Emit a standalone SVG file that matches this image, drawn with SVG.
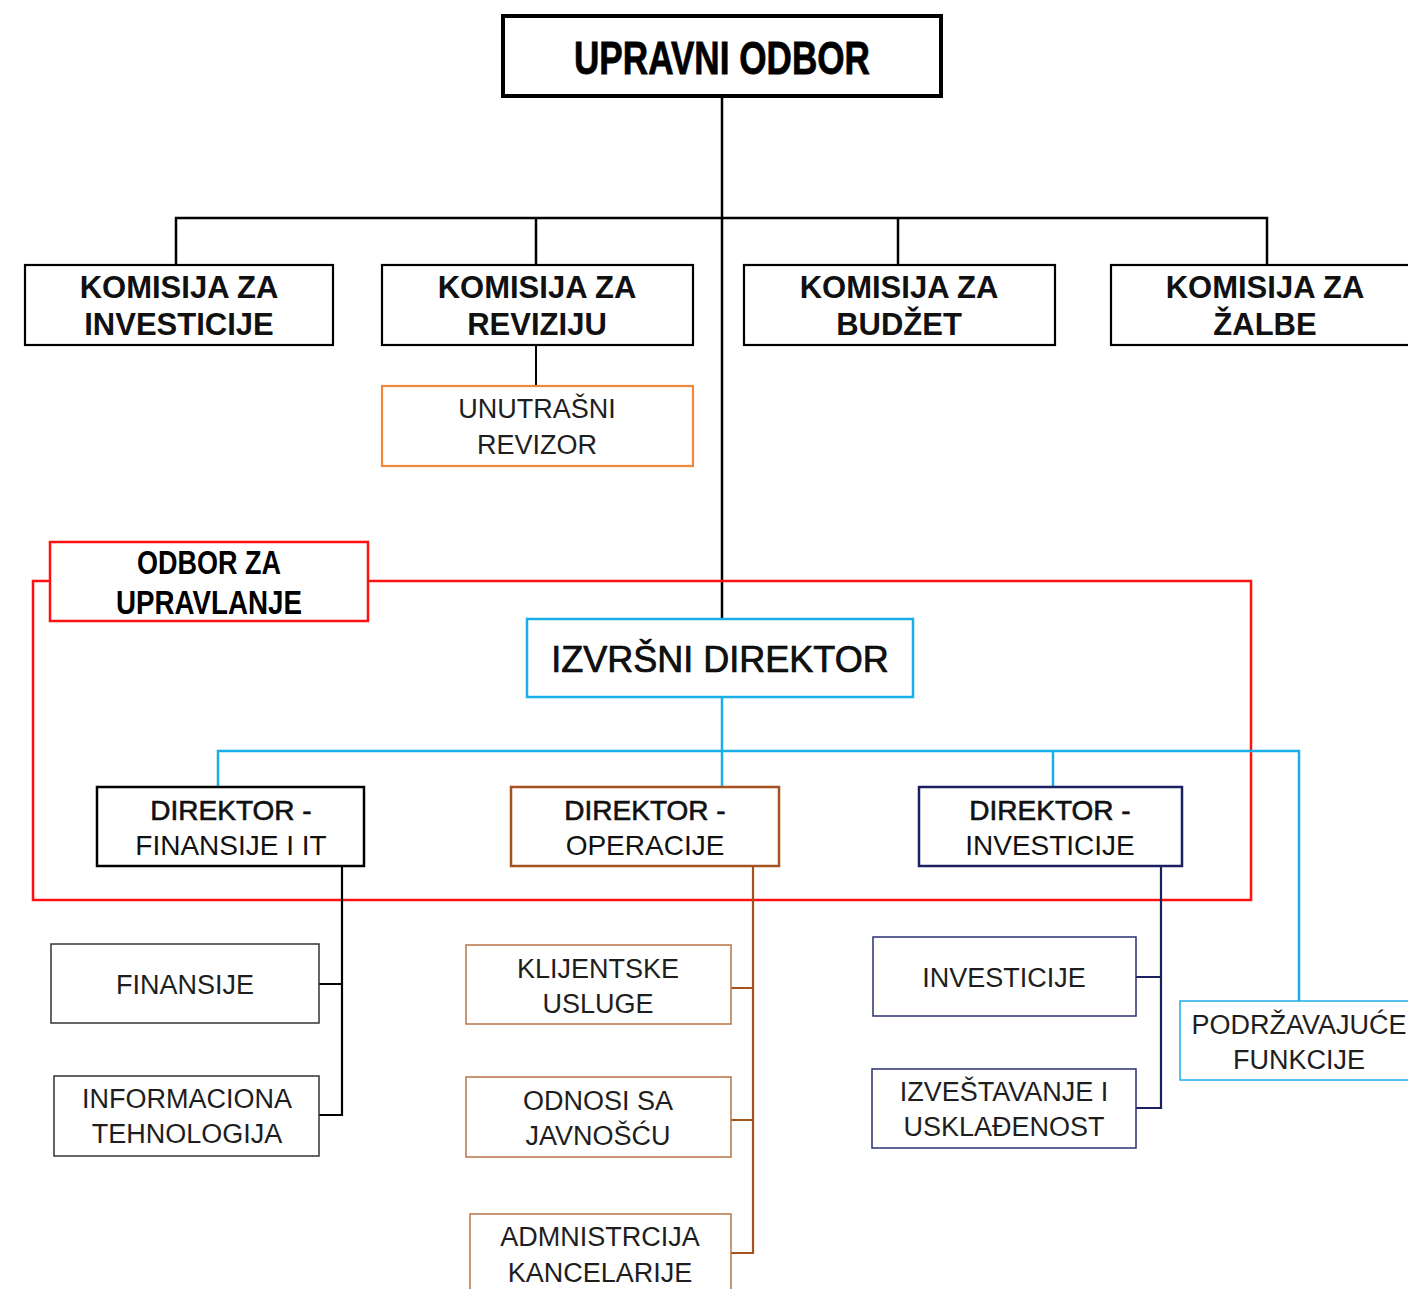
<svg xmlns="http://www.w3.org/2000/svg" width="1408" height="1289" viewBox="0 0 1408 1289">
<style>
text{font-family:"Liberation Sans",Arial,sans-serif;text-anchor:middle;fill:#111}
.cond{font-weight:bold;fill:#000}
.kom{font-weight:bold;font-size:31px}
.dir{font-size:28px}
.dm{font-size:28px;stroke:#111;stroke-width:0.6}
.sub{font-size:27px;fill:#1e1e1e}
.box{fill:#fff}
.blk{stroke:#000;stroke-width:2.2}
.subblk{stroke:#333;stroke-width:1.5}
.brl{stroke:#b87447;stroke-width:1.5}
.nvl{stroke:#2a3070;stroke-width:1.5}
.line{fill:none}
</style>
<g id="connectors" class="line">
<polyline points="722,98 722,618" stroke="#000" stroke-width="2.5"/>
<polyline points="176,265 176,218 1267,218 1267,265" stroke="#000" stroke-width="2.5"/>
<line x1="536" y1="218" x2="536" y2="265" stroke="#000" stroke-width="2.5"/>
<line x1="898" y1="218" x2="898" y2="265" stroke="#000" stroke-width="2.5"/>
<line x1="536" y1="345" x2="536" y2="386" stroke="#000" stroke-width="2"/>
<polyline points="50,581 33,581 33,900 1251,900 1251,581 368,581" stroke="#ff1010" stroke-width="2.5"/>
<polyline points="722,697 722,787" stroke="#1aaee8" stroke-width="2.5"/>
<polyline points="218,787 218,751 1299,751 1299,1001" stroke="#1aaee8" stroke-width="2.5"/>
<line x1="1053" y1="751" x2="1053" y2="787" stroke="#1aaee8" stroke-width="2.5"/>
<polyline points="342,866 342,1115 319,1115" stroke="#000" stroke-width="2.2"/>
<line x1="319" y1="984" x2="342" y2="984" stroke="#000" stroke-width="2"/>
<polyline points="753,866 753,1253 731,1253" stroke="#a5521e" stroke-width="2.2"/>
<line x1="731" y1="988" x2="753" y2="988" stroke="#a5521e" stroke-width="2"/>
<line x1="731" y1="1120" x2="753" y2="1120" stroke="#a5521e" stroke-width="2"/>
<polyline points="1161,866 1161,1108 1136,1108" stroke="#1b2062" stroke-width="2.2"/>
<line x1="1136" y1="977" x2="1161" y2="977" stroke="#1b2062" stroke-width="2"/>
</g>
<g id="upravni-odbor">
<rect x="503" y="16" width="438" height="80" class="box" stroke="#000" stroke-width="4"/>
<text x="722" y="74" class="cond" font-size="47" stroke="#000" stroke-width="0.8" textLength="296" lengthAdjust="spacingAndGlyphs">UPRAVNI ODBOR</text>
</g>
<g id="komisija-investicije">
<rect x="25" y="265" width="308" height="80" class="box blk"/>
<text x="179" y="298" class="kom">KOMISIJA ZA</text>
<text x="179" y="335" class="kom">INVESTICIJE</text>
</g>
<g id="komisija-reviziju">
<rect x="382" y="265" width="311" height="80" class="box blk"/>
<text x="537" y="298" class="kom">KOMISIJA ZA</text>
<text x="537" y="335" class="kom">REVIZIJU</text>
</g>
<g id="komisija-budzet">
<rect x="744" y="265" width="311" height="80" class="box blk"/>
<text x="899" y="298" class="kom">KOMISIJA ZA</text>
<text x="899" y="335" class="kom">BUDŽET</text>
</g>
<g id="komisija-zalbe">
<rect x="1111" y="265" width="312" height="80" class="box blk"/>
<text x="1265" y="298" class="kom">KOMISIJA ZA</text>
<text x="1265" y="335" class="kom">ŽALBE</text>
</g>
<g id="unutrasnji-revizor">
<rect x="382" y="386" width="311" height="80" class="box" stroke="#f0873a" stroke-width="2.2"/>
<text x="537" y="418" class="sub">UNUTRAŠNI</text>
<text x="537" y="454" class="sub">REVIZOR</text>
</g>
<g id="odbor-za-upravlanje">
<rect x="50" y="542" width="318" height="79" class="box" stroke="#ff1010" stroke-width="2.5"/>
<text x="209" y="574" class="cond" font-size="34" textLength="144" lengthAdjust="spacingAndGlyphs">ODBOR ZA</text>
<text x="209" y="614" class="cond" font-size="34" textLength="186" lengthAdjust="spacingAndGlyphs">UPRAVLANJE</text>
</g>
<g id="izvrsni-direktor">
<rect x="527" y="619" width="386" height="78" class="box" stroke="#1aaee8" stroke-width="2.5"/>
<text x="720" y="672" font-size="36" stroke="#000" stroke-width="0.7" fill="#000">IZVRŠNI DIREKTOR</text>
</g>
<g id="direktor-finansije">
<rect x="97" y="787" width="267" height="79" class="box" stroke="#000" stroke-width="2.5"/>
<text x="231" y="820" class="dm">DIREKTOR -</text>
<text x="231" y="855" class="dir">FINANSIJE I IT</text>
</g>
<g id="direktor-operacije">
<rect x="511" y="787" width="268" height="79" class="box" stroke="#a5521e" stroke-width="2.5"/>
<text x="645" y="820" class="dm">DIREKTOR -</text>
<text x="645" y="855" class="dir">OPERACIJE</text>
</g>
<g id="direktor-investicije">
<rect x="919" y="787" width="263" height="79" class="box" stroke="#1b2062" stroke-width="2.5"/>
<text x="1050" y="820" class="dm">DIREKTOR -</text>
<text x="1050" y="855" class="dir">INVESTICIJE</text>
</g>
<g id="finansije">
<rect x="51" y="944" width="268" height="79" class="box subblk"/>
<text x="185" y="994" class="sub">FINANSIJE</text>
</g>
<g id="informaciona-tehnologija">
<rect x="54" y="1076" width="265" height="80" class="box subblk"/>
<text x="187" y="1108" class="sub">INFORMACIONA</text>
<text x="187" y="1143" class="sub">TEHNOLOGIJA</text>
</g>
<g id="klijentske-usluge">
<rect x="466" y="945" width="265" height="79" class="box brl"/>
<text x="598" y="978" class="sub">KLIJENTSKE</text>
<text x="598" y="1013" class="sub">USLUGE</text>
</g>
<g id="odnosi-sa-javnoscu">
<rect x="466" y="1077" width="265" height="80" class="box brl"/>
<text x="598" y="1110" class="sub">ODNOSI SA</text>
<text x="598" y="1145" class="sub">JAVNOŠĆU</text>
</g>
<g id="administracija-kancelarije">
<rect x="470" y="1214" width="261" height="82" class="box brl"/>
<text x="600" y="1246" class="sub">ADMNISTRCIJA</text>
<text x="600" y="1282" class="sub">KANCELARIJE</text>
</g>
<g id="investicije">
<rect x="873" y="937" width="263" height="79" class="box nvl"/>
<text x="1004" y="987" class="sub">INVESTICIJE</text>
</g>
<g id="izvestavanje">
<rect x="872" y="1069" width="264" height="79" class="box nvl"/>
<text x="1004" y="1101" class="sub">IZVEŠTAVANJE I</text>
<text x="1004" y="1136" class="sub">USKLAĐENOST</text>
</g>
<g id="podrzavajuce-funkcije">
<rect x="1180" y="1001" width="240" height="79" class="box" stroke="#1aaee8" stroke-width="1.5"/>
<text x="1299" y="1034" class="sub">PODRŽAVAJUĆE</text>
<text x="1299" y="1069" class="sub">FUNKCIJE</text>
</g>
</svg>
